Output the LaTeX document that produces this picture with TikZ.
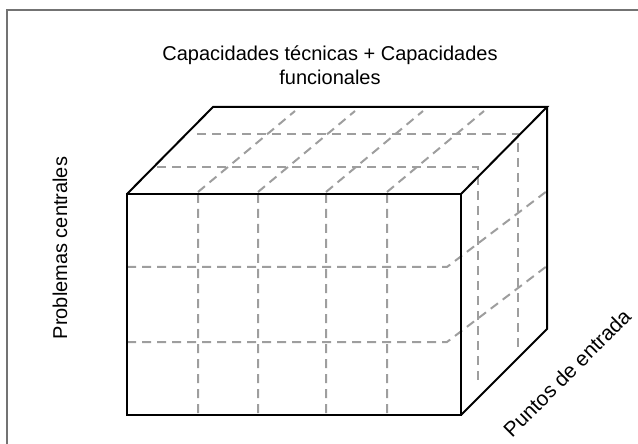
\documentclass[tikz,border=0pt]{standalone}
\usepackage{fontspec}
\setmainfont{Liberation Sans}
\begin{document}
\begin{tikzpicture}[x=0.5pt, y=-0.5pt,
    edge/.style = {draw, line width=1pt, line join=miter},
    grid/.style = {draw=black!38, line width=1pt, dash pattern=on 4.5pt off 3pt},
    lbl/.style = {font=\fontsize{10}{12}\selectfont, align=center, inner sep=0pt}]
    \useasboundingbox (0,0) rectangle (638,444);
    \draw[black!55, line width=1pt] (7,444) -- (7,10) -- (638,10);
    % corners of the box
    \coordinate (ftl) at (127,194);
    \coordinate (ftr) at (461,194);
    \coordinate (fbr) at (461,415);
    \coordinate (fbl) at (127,415);
    \coordinate (btl) at (213,107);
    \coordinate (btr) at (547,107);
    \coordinate (bbr) at (547,329);
    % hidden grid
    \foreach \x in {198,258,326,387}
        \draw[grid] (\x,194) -- (\x,415) (\x,192) -- ++(97,-81);
    \foreach \y in {267,342}
        \draw[grid] (127,\y) -- (447,\y) -- ++(100,-76);
    \draw[grid] (197,134) -- (518,134) -- (518,350);
    \draw[grid] (157,167) -- (478,167) -- (478,383);
    % box
    \draw[edge] (fbl) rectangle (ftr);
    \draw[edge] (ftl) -- (btl) -- (btr) -- (ftr) (btr) -- (bbr) -- (fbr);
    % labels
    \node[lbl, anchor=north] (cols) at (330,45) {Capacidades técnicas + Capacidades\\funcionales};
    \node[lbl, rotate=90] (rows) at (60,248) {Problemas centrales};
    \node[lbl, rotate=45, font=\fontsize{10.4}{12}\selectfont] (depth) at (567,373) {Puntos de entrada};
\end{tikzpicture}
\end{document}
